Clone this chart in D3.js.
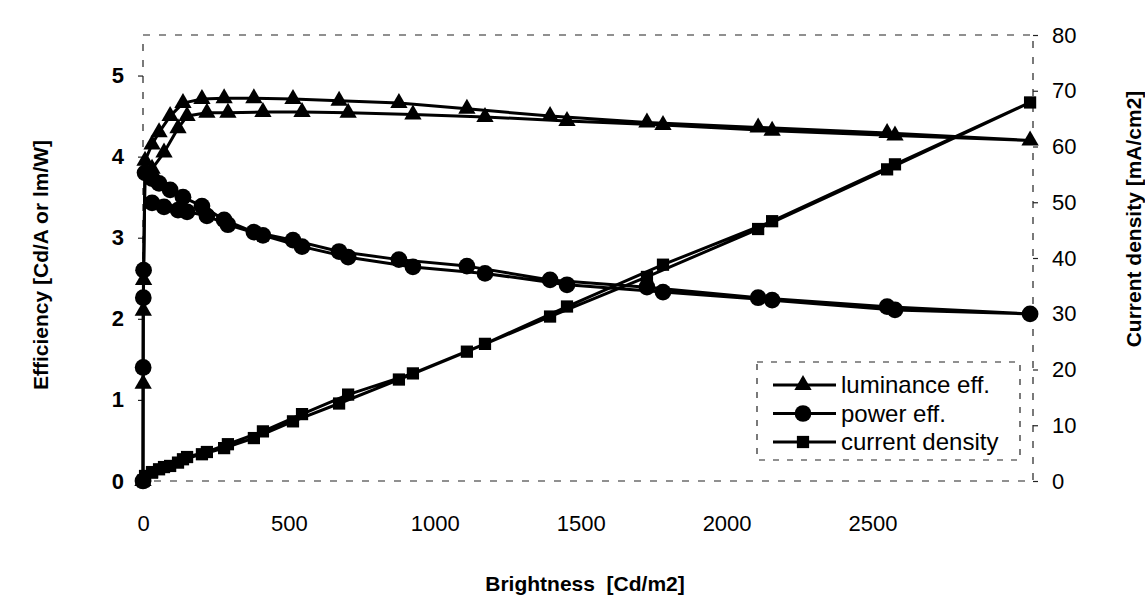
<!DOCTYPE html>
<html>
<head>
<meta charset="utf-8">
<script src="https://cdn.jsdelivr.net/npm/d3@7"></script>
<style>
  html, body { margin: 0; padding: 0; background: #fff; }
  svg text { font-family: "Liberation Sans", Arial, Helvetica, sans-serif; fill: #000; }
</style>
</head>
<body>
<div id="chart"></div>
<script>
// Efficiency / current density vs brightness, two sweeps (up and back down)

// sweep up
const brightnessUp = [0, 0.5, 1, 2, 7, 31, 55, 93, 137, 202, 278, 380, 514, 672, 877, 1110, 1395, 1727, 2108, 2550, 3040];
const lumEffUp = [0, 1.2, 2.1, 2.48, 3.95, 4.15, 4.3, 4.5, 4.66, 4.71, 4.72, 4.72, 4.71, 4.69, 4.66, 4.59, 4.5, 4.42, 4.36, 4.29, 4.2];
const powEffUp = [0, 1.4, 2.26, 2.6, 3.8, 3.73, 3.67, 3.59, 3.5, 3.39, 3.22, 3.07, 2.97, 2.83, 2.73, 2.65, 2.48, 2.39, 2.26, 2.15, 2.06];
const currentUp = [0, 0, 0, 0.1, 0.9, 1.5, 2.1, 2.7, 3.9, 4.8, 5.9, 7.7, 10.7, 13.9, 18.2, 23.2, 29.5, 36.6, 45.2, 55.9, 67.9];

// sweep back down
const brightnessDown = [2577, 2156, 1782, 1453, 1172, 925, 703, 545, 411, 291, 219, 151, 120, 72, 31];
const lumEffDown = [4.26, 4.32, 4.39, 4.44, 4.49, 4.52, 4.54, 4.55, 4.55, 4.54, 4.54, 4.5, 4.35, 4.05, 3.85];
const powEffDown = [2.11, 2.23, 2.33, 2.42, 2.56, 2.64, 2.76, 2.89, 3.03, 3.16, 3.27, 3.32, 3.34, 3.38, 3.43];
const currentDown = [56.8, 46.6, 38.8, 31.3, 24.6, 19.3, 15.5, 12.0, 8.9, 6.6, 5.2, 4.3, 3.3, 2.5, 1.6];

const seriesNames = ['luminance eff.', 'power eff.', 'current density'];
const xTicks = [0, 500, 1000, 1500, 2000, 2500];
const leftTicks = [0, 1, 2, 3, 4, 5];
const rightTicks = [0, 10, 20, 30, 40, 50, 60, 70, 80];

const width = 1145, height = 610;
const plot = { left: 143, right: 1033, top: 35, bottom: 481 };

const svg = d3.select('#chart').append('svg')
    .attr('width', width)
    .attr('height', height);

const x = d3.scaleLinear().domain([0, 3050]).range([plot.left, plot.right]);
const yLeft = d3.scaleLinear().domain([0, 5.5]).range([plot.bottom, plot.top]);
const yRight = d3.scaleLinear().domain([0, 80]).range([plot.bottom, plot.top]);
const fmt = d3.format('d');

// dashed plot frame (scan of a thin grey border)
svg.append('rect')
    .attr('x', plot.left).attr('y', plot.top)
    .attr('width', plot.right - plot.left)
    .attr('height', plot.bottom - plot.top)
    .attr('fill', 'none')
    .attr('stroke', '#222')
    .attr('stroke-width', 1.2)
    .attr('stroke-dasharray', '7,9');

// axes
const gx = svg.append('g')
    .attr('transform', `translate(0,${plot.bottom})`)
    .call(d3.axisBottom(x).tickValues(xTicks).tickFormat(fmt).tickSize(0).tickPadding(34));
gx.selectAll('text').attr('font-size', 22);

const gl = svg.append('g')
    .attr('transform', `translate(${plot.left},0)`)
    .call(d3.axisLeft(yLeft).tickValues(leftTicks).tickFormat(fmt).tickSize(5).tickPadding(14));
gl.selectAll('text').attr('font-size', 22).attr('font-weight', 'bold');

const gr = svg.append('g')
    .attr('transform', `translate(${plot.right},0)`)
    .call(d3.axisRight(yRight).tickValues(rightTicks).tickFormat(fmt).tickSize(5).tickPadding(14));
gr.selectAll('text').attr('font-size', 22);

svg.selectAll('.domain').remove();
svg.selectAll('.tick line').attr('stroke', '#222').attr('stroke-width', 1.2);

// titles
svg.append('text')
    .attr('x', 585).attr('y', 591)
    .attr('text-anchor', 'middle')
    .attr('font-size', 21).attr('font-weight', 'bold')
    .style('white-space', 'pre')
    .text('Brightness  [Cd/m2]');

svg.append('text')
    .attr('transform', 'translate(48,265) rotate(-90)')
    .attr('text-anchor', 'middle')
    .attr('font-size', 21).attr('font-weight', 'bold')
    .text('Efficiency [Cd/A or lm/W]');

svg.append('text')
    .attr('transform', 'translate(1141,219) rotate(-90)')
    .attr('text-anchor', 'middle')
    .attr('font-size', 21).attr('font-weight', 'bold')
    .text('Current density [mA/cm2]');

// series: up sweep followed by the way back
const series = [
    { name: seriesNames[0], y: yLeft, up: lumEffUp, down: lumEffDown, symbol: d3.symbolTriangle, size: 130 },
    { name: seriesNames[1], y: yLeft, up: powEffUp, down: powEffDown, symbol: d3.symbolCircle, size: 220 },
    { name: seriesNames[2], y: yRight, up: currentUp, down: currentDown, symbol: d3.symbolSquare, size: 150 }
];

series.forEach(s => {
    s.points = brightnessUp.map((b, i) => [b, s.up[i]])
        .concat(brightnessDown.map((b, i) => [b, s.down[i]]));
});

const line = yScale => d3.line()
    .x(d => x(d[0]))
    .y(d => yScale(d[1]));

series.forEach(s => {
    const g = svg.append('g');
    g.append('path')
        .datum(s.points)
        .attr('d', line(s.y))
        .attr('fill', 'none')
        .attr('stroke', '#000')
        .attr('stroke-width', 3)
        .attr('stroke-linejoin', 'round');

    g.selectAll('path.marker')
        .data(s.points)
        .join('path')
        .attr('class', 'marker')
        .attr('transform', d => `translate(${x(d[0])},${s.y(d[1])})`)
        .attr('d', d3.symbol().type(s.symbol).size(s.size))
        .attr('fill', '#000');
});

// legend
const legend = svg.append('g');
legend.append('rect')
    .attr('x', 757).attr('y', 362)
    .attr('width', 263).attr('height', 98)
    .attr('fill', '#fff')
    .attr('stroke', '#222')
    .attr('stroke-width', 1.2)
    .attr('stroke-dasharray', '6,8');

series.forEach((s, i) => {
    const cy = 385 + i * 28.5;
    legend.append('line')
        .attr('x1', 773).attr('x2', 836)
        .attr('y1', cy).attr('y2', cy)
        .attr('stroke', '#000').attr('stroke-width', 3);
    legend.append('path')
        .attr('transform', `translate(803,${cy})`)
        .attr('d', d3.symbol().type(s.symbol).size(s.size))
        .attr('fill', '#000');
    legend.append('text')
        .attr('x', 841).attr('y', cy)
        .attr('dy', '0.35em')
        .attr('font-size', 24)
        .text(s.name);
});
</script>
</body>
</html>
